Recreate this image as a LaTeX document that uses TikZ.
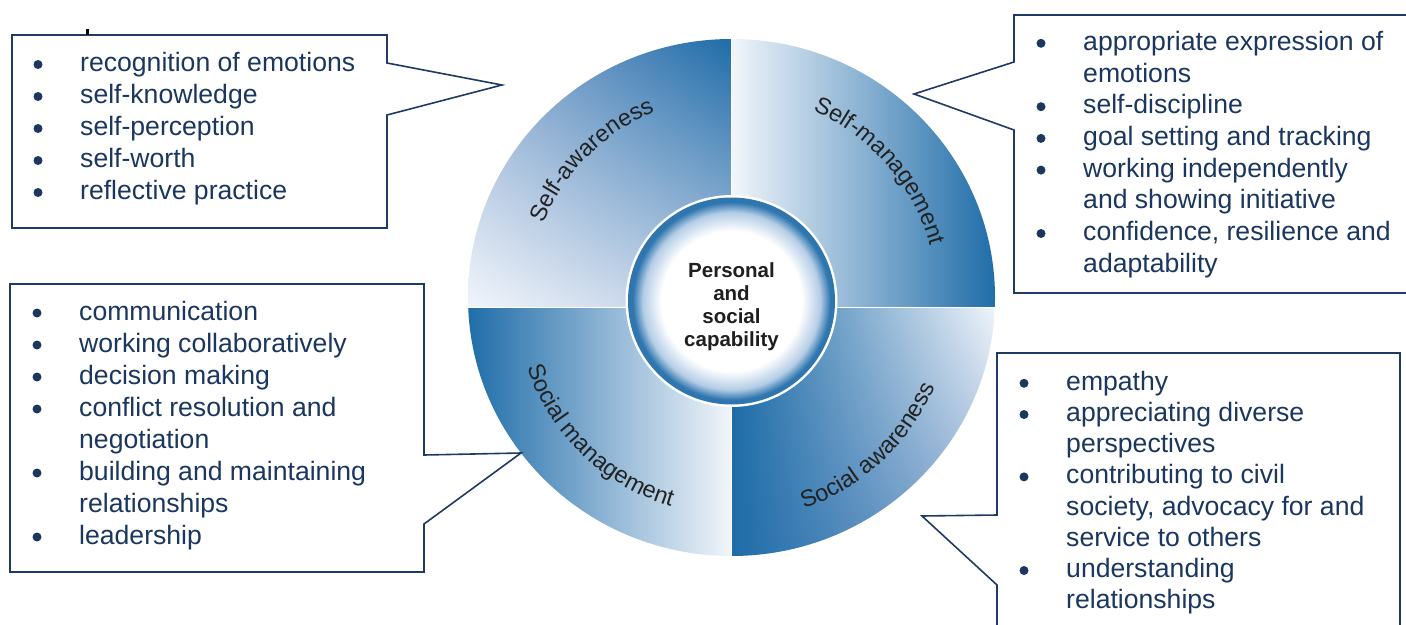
\documentclass[tikz,border=0pt]{standalone}
\usepackage{fontspec}
\setmainfont{Liberation Sans}
\usetikzlibrary{decorations.text,shadings}
\definecolor{navy}{HTML}{1B365F}
\definecolor{boxline}{HTML}{1F3A63}
\definecolor{qdark}{HTML}{1E6CA8}
\definecolor{qmid}{HTML}{8FABD2}
\definecolor{qlight}{HTML}{F1F5FB}
\definecolor{hubdark}{HTML}{2F76AF}
\definecolor{hubmid}{HTML}{B4CDE6}
\definecolor{lblgray}{HTML}{222222}
\pgfdeclareradialshading{hub}{\pgfpoint{0bp}{0bp}}{color(0bp)=(white); color(17bp)=(white); color(21.5bp)=(hubmid); color(24bp)=(hubdark); color(25bp)=(hubdark); color(50bp)=(hubdark)}
\newcommand\lblfont{\fontsize{23.5}{27}\selectfont\color{lblgray}}
\newcommand\itemfont{\fontsize{26.6}{32}\selectfont}
\begin{document}
\begin{tikzpicture}[x=1pt,y=-1pt,
  callout/.style={draw=boxline, line width=1.6pt, fill=white, line join=miter},
  itemtext/.style={anchor=base west, inner sep=0pt, text=navy, font=\itemfont},
  bulletdot/.style={circle, fill=navy, inner sep=0pt, minimum size=9pt},
  arclabel/.style={decorate, decoration={text along path, text align=center, text={|\lblfont|#1}}}]
\useasboundingbox (0,0) rectangle (1406,624);
\fill[white] (0,0) rectangle (1406,624);

% quadrants
\begin{scope}
\clip (731.5,297.5) ellipse [x radius=263.5pt, y radius=258.5pt];
\shade[upper right=qdark, upper left=qmid, lower right=qmid!60!qlight, lower left=qlight] (466,37) rectangle (730.5,306);
\shade[left color=qlight, right color=qdark] (732.5,37) rectangle (997,306);
\shade[left color=qdark, right color=qlight] (466,308) rectangle (730.5,558);
\shade[upper left=qdark, lower left=qdark, upper right=qlight, lower right=qmid] (732.5,308) rectangle (997,558);
\end{scope}

% hub
\fill[white] (731.5,301) circle[radius=106pt];
\node[circle, minimum size=206pt, inner sep=0pt, shade, shading=hub, draw=hubdark, line width=1pt] (hub) at (731.5,301) {};
\node[align=center, font=\bfseries\fontsize{20.5}{23}\selectfont, text=black!88] (title) at (731.5,307) {Personal\\and\\social\\capability};

% curved labels
\begin{scope}[shift={(731.5,300)}, y=1pt]
\path[arclabel={Self-awareness}] (180:203pt) arc[start angle=180, end angle=90, radius=203pt];
\path[arclabel={Self-management}] (86:206pt) arc[start angle=86, end angle=-4, radius=206pt];
\path[arclabel={Social management}] (181:215pt) arc[start angle=181, end angle=271, radius=215pt];
\path[arclabel={Social awareness}] (-92:221pt) arc[start angle=-92, end angle=-2, radius=221pt];
\end{scope}

% callout boxes
\draw[callout] (12,35) -- (387,35) -- (387,63) -- (502,85) -- (387,115) -- (387,228) -- (12,228) -- cycle;
\draw[callout] (1014,15) -- (1412,15) -- (1412,293) -- (1014,293) -- (1014,130) -- (914,94) -- (1014,62) -- cycle;
\draw[callout] (10,284) -- (424,284) -- (424,455) -- (521,453) -- (424,524) -- (424,572) -- (10,572) -- cycle;
\draw[callout] (997,353) -- (1400,353) -- (1400,632) -- (997,632) -- (997,585) -- (922,516) -- (997,515) -- cycle;
\fill[black] (86,29) rectangle (88.5,35);

% box 1
\foreach \y/\t [count=\i] in {64.5/recognition of emotions, 96.5/self-knowledge, 128.5/self-perception, 160.5/self-worth, 192.5/reflective practice}
  {\node[itemtext] (a\i) at (80,\y+7) {\t};
   \node[bulletdot] (ab\i) at (38,\y) {};}

% box 2
\foreach \y/\t [count=\i] in {43.3/appropriate expression of, 75/emotions, 106.7/self-discipline, 138.4/goal setting and tracking, 170.1/working independently, 201.8/and showing initiative, 233.5/{confidence, resilience and}, 265.2/adaptability}
  {\node[itemtext] (b\i) at (1083,\y+7) {\t};}
\foreach \y [count=\i] in {43.3,106.7,138.4,170.1,233.5}
  {\node[bulletdot] (bb\i) at (1041,\y) {};}

% box 3
\foreach \y/\t [count=\i] in {313/communication, 345/working collaboratively, 377/decision making, 409/conflict resolution and, 441/negotiation, 473/building and maintaining, 505/relationships, 537/leadership}
  {\node[itemtext] (c\i) at (79,\y+7) {\t};}
\foreach \y [count=\i] in {313,345,377,409,473,537}
  {\node[bulletdot] (cb\i) at (37,\y) {};}

% box 4
\foreach \y/\t [count=\i] in {383.3/empathy, 414.5/appreciating diverse, 445.7/perspectives, 476.9/contributing to civil, 508.1/{society, advocacy for and}, 539.3/service to others, 570.5/understanding, 601.7/relationships}
  {\node[itemtext] (d\i) at (1066,\y+7) {\t};}
\foreach \y [count=\i] in {383.3,414.5,476.9,570.5}
  {\node[bulletdot] (db\i) at (1024,\y) {};}
\end{tikzpicture}
\end{document}
